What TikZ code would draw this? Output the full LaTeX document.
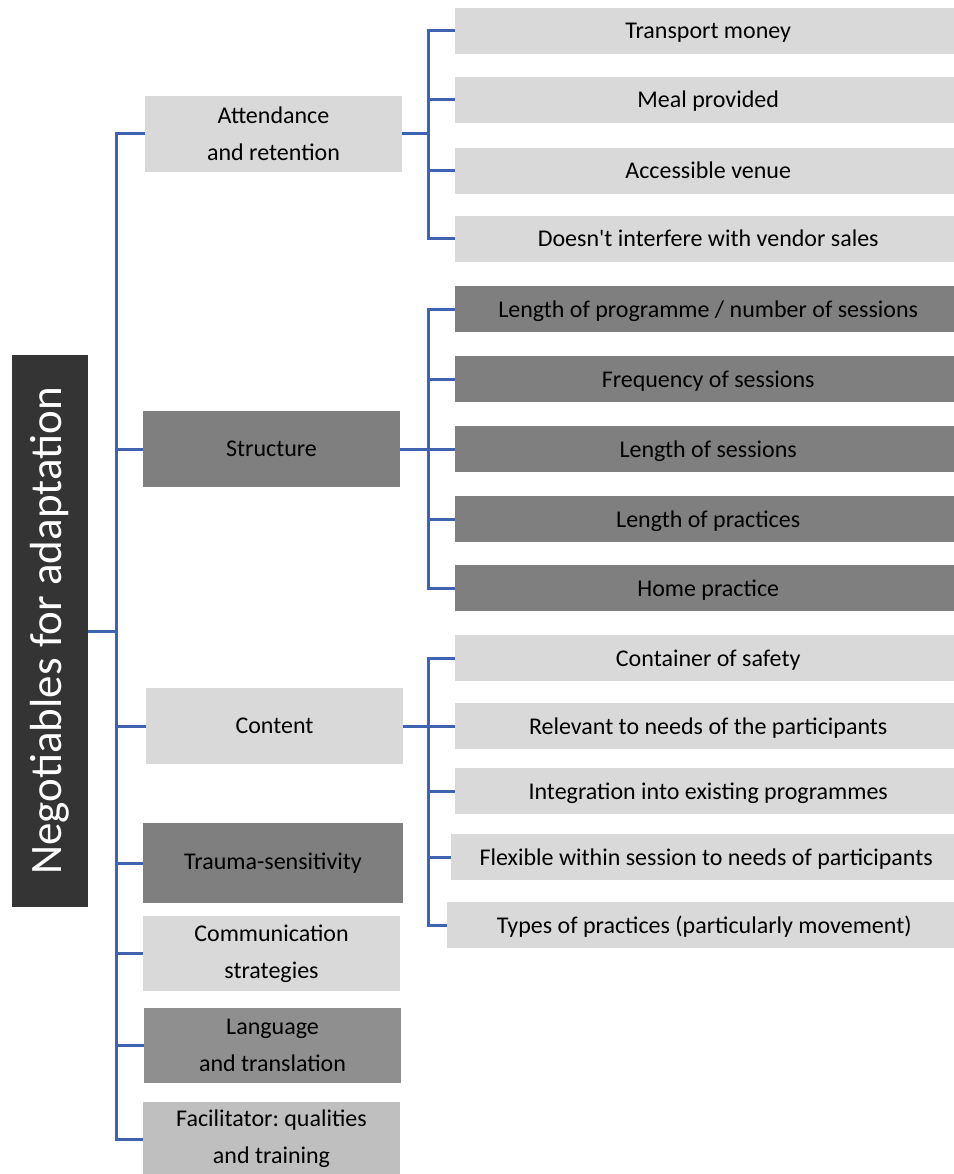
\documentclass[tikz,border=0pt]{standalone}
\usepackage{fontspec}
\setmainfont{Carlito}
\frenchspacing
\definecolor{lightbox}{HTML}{D9D9D9}
\definecolor{darkbox}{HTML}{7F7F7F}
\definecolor{langbox}{HTML}{8F8F8F}
\definecolor{facbox}{HTML}{BFBFBF}
\definecolor{rootbox}{HTML}{343434}
\definecolor{connblue}{HTML}{3F63B0}
\begin{document}
\begin{tikzpicture}[x=1pt,y=-1pt,
  box/.style={rectangle, inner sep=0pt, align=center, text=black,
    font=\fontsize{24}{37}\selectfont},
  lvlone/.style={box, minimum width=257pt, minimum height=76pt},
  leaf/.style={box, minimum height=46pt, anchor=west, text height=17pt, text depth=1pt},
  conn/.style={draw=connblue, line width=3pt}]
\useasboundingbox (0,0) rectangle (953,1174);

% root
\node[rectangle, fill=rootbox, text=white, rotate=90, minimum width=552pt, minimum height=76pt, inner sep=0pt,
  font=\fontsize{45}{47}\selectfont] (root) at (50,631) {Negotiables for adaptation};

% level one
\node[lvlone, fill=lightbox] (att) at (273.5,134) {Attendance\\and retention};
\node[lvlone, fill=darkbox] (str) at (271.5,449) {Structure};
\node[lvlone, fill=lightbox] (con) at (274.5,726) {Content};
\node[lvlone, fill=darkbox, minimum width=260pt, minimum height=80pt] (tra) at (273,863) {Trauma-sensitivity};
\node[lvlone, fill=lightbox, minimum height=75pt] (com) at (271.5,953.5) {Communication\\strategies};
\node[lvlone, fill=langbox, minimum height=75pt] (lan) at (272.5,1045.5) {Language\\and translation};
\node[lvlone, fill=facbox, minimum height=74pt] (fac) at (271.5,1139) {Facilitator: qualities\\and training};

% attendance leaves
\node[leaf, fill=lightbox, minimum width=506pt] (a1) at (455,31) {Transport money};
\node[leaf, fill=lightbox, minimum width=506pt] (a2) at (455,100) {Meal provided};
\node[leaf, fill=lightbox, minimum width=506pt] (a3) at (455,171) {Accessible venue};
\node[leaf, fill=lightbox, minimum width=506pt] (a4) at (455,239) {Doesn\textquotesingle t interfere with vendor sales};

% structure leaves
\node[leaf, fill=darkbox, minimum width=506pt] (s1) at (455,309) {Length of programme / number of sessions};
\node[leaf, fill=darkbox, minimum width=506pt] (s2) at (455,379) {Frequency of sessions};
\node[leaf, fill=darkbox, minimum width=506pt] (s3) at (455,449) {Length of sessions};
\node[leaf, fill=darkbox, minimum width=506pt] (s4) at (455,519) {Length of practices};
\node[leaf, fill=darkbox, minimum width=506pt] (s5) at (455,588) {Home practice};

% content leaves
\node[leaf, fill=lightbox, minimum width=506pt] (c1) at (455,658) {Container of safety};
\node[leaf, fill=lightbox, minimum width=506pt] (c2) at (455,726) {Relevant to needs of the participants};
\node[leaf, fill=lightbox, minimum width=506pt] (c3) at (455,791) {Integration into existing programmes};
\node[leaf, fill=lightbox, minimum width=510pt] (c4) at (451,857) {Flexible within session to needs of participants};
\node[leaf, fill=lightbox, minimum width=514pt] (c5) at (447,925) {Types of practices (particularly movement)};

% connectors: root to level one
\foreach \n in {att,str,con,tra,com,lan,fac}
  \draw[conn] (root.south) -- ++(28,0) |- (\n.west);

% attendance
\foreach \n in {a1,a2,a3,a4}
  \draw[conn] (att.east) -- ++(26,0) |- (\n.west);
% structure
\foreach \n in {s1,s2,s3,s4,s5}
  \draw[conn] (str.east) -- ++(28,0) |- (\n.west);
% content
\foreach \n in {c1,c2,c3,c4,c5}
  \draw[conn] (con.east) -- ++(25,0) |- (\n.west);
\end{tikzpicture}
\end{document}
